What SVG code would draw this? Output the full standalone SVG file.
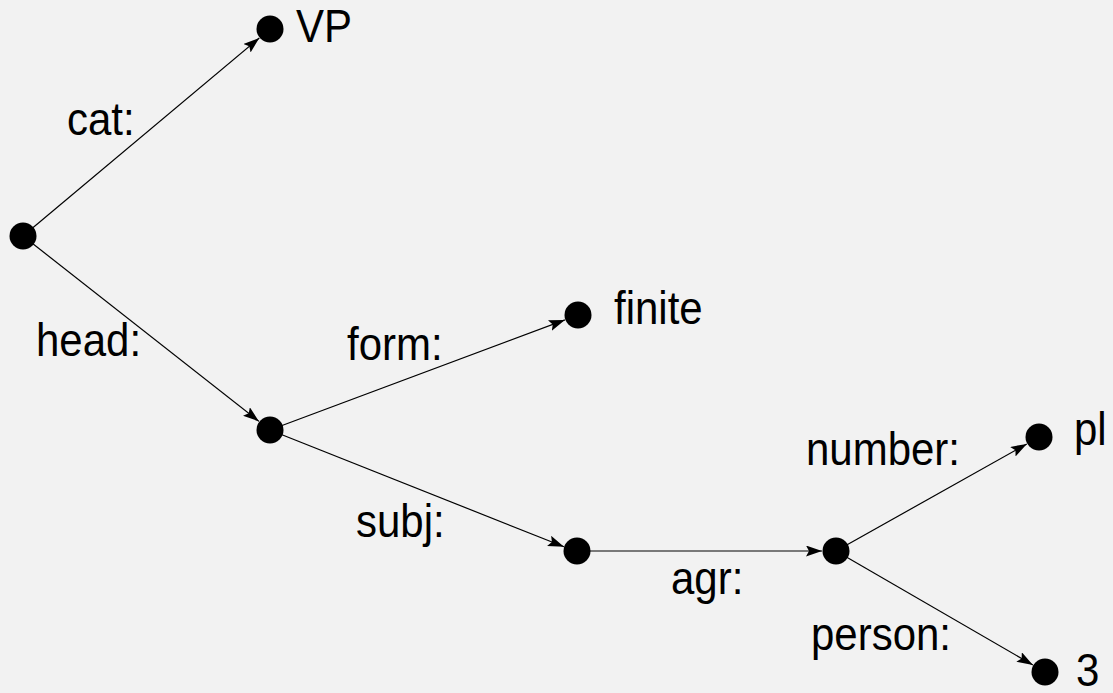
<svg xmlns="http://www.w3.org/2000/svg" width="1113" height="693" viewBox="0 0 1113 693">
<style>
.n{fill:#000}
.e{stroke:#000;stroke-width:1.2;fill:none;marker-end:url(#ah)}
.t{font-family:"Liberation Sans",Arial,sans-serif;font-size:42px;fill:#000}
</style>
<defs>
<marker id="ah" markerUnits="userSpaceOnUse" markerWidth="17" markerHeight="12" refX="16" refY="5.5" orient="auto">
<path d="M0,0 L16,5.5 L0,11 L3,5.5 z" fill="#000"/>
</marker>
</defs>
<rect width="1113" height="693" fill="#f2f2f2"/>
<g id="connectors">
<line class="e" x1="23" y1="236" x2="259.3" y2="38"/>
<line class="e" x1="23" y1="236" x2="259" y2="421.4"/>
<line class="e" x1="270" y1="430" x2="564.9" y2="319.9"/>
<line class="e" x1="270" y1="430" x2="564" y2="546.8"/>
<line class="e" x1="577" y1="551" x2="822" y2="551"/>
<line class="e" x1="836" y1="551" x2="1026.8" y2="443.9"/>
<line class="e" x1="836" y1="551" x2="1032.9" y2="665"/>
</g>
<g id="edge-labels">
<text class="t" transform="translate(67,135) scale(1,1.1)">cat:</text>
<text class="t" transform="translate(36,356) scale(1,1.1)">head:</text>
<text class="t" transform="translate(347,360) scale(1,1.1)">form:</text>
<text class="t" transform="translate(356,537) scale(1,1.1)">subj:</text>
<text class="t" transform="translate(671,594) scale(1,1.1)">agr:</text>
<text class="t" transform="translate(806,465) scale(1,1.1)">number:</text>
<text class="t" transform="translate(811,650) scale(1,1.1)">person:</text>
</g>
<g id="node-root"><circle class="n" cx="23" cy="236" r="13.5"/></g>
<g id="node-vp"><circle class="n" cx="270" cy="29" r="13.5"/><text class="t" transform="translate(296,42) scale(1,1.1)">VP</text></g>
<g id="node-head"><circle class="n" cx="270" cy="430" r="13.5"/></g>
<g id="node-finite"><circle class="n" cx="578" cy="315" r="13.5"/><text class="t" transform="translate(614,324) scale(1,1.1)">finite</text></g>
<g id="node-subj"><circle class="n" cx="577" cy="551" r="13.5"/></g>
<g id="node-agr"><circle class="n" cx="836" cy="551" r="13.5"/></g>
<g id="node-pl"><circle class="n" cx="1039" cy="437" r="13.5"/><text class="t" transform="translate(1074,445) scale(1,1.1)">pl</text></g>
<g id="node-3"><circle class="n" cx="1045" cy="672" r="13.5"/><text class="t" transform="translate(1076,686) scale(1,1.1)">3</text></g>
</svg>
